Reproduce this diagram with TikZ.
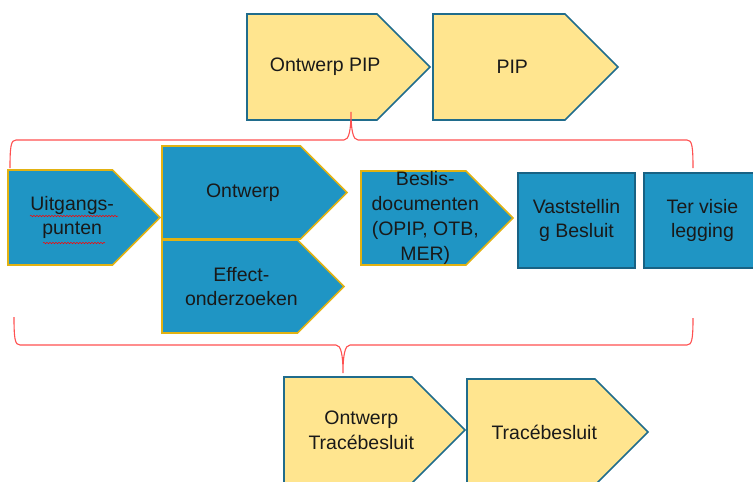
\documentclass[tikz,border=0pt]{standalone}
\usepackage{fontspec}
\setmainfont{Liberation Sans}
\usetikzlibrary{decorations.pathmorphing}

\definecolor{geel}{RGB}{255,229,143}
\definecolor{geelrand}{RGB}{32,108,140}
\definecolor{blauw}{RGB}{31,149,196}
\definecolor{goud}{RGB}{226,178,18}
\definecolor{blauwrand}{RGB}{24,98,132}
\definecolor{rood}{RGB}{255,80,80}

\newcommand{\pijl}[7]{%
  \pgfmathsetmacro\pijlh{(#6-#4)/2}
  \draw[#2] (#3,#4) -- ({#5-\pijlh},#4) -- (#5,{#4+\pijlh}) -- ({#5-\pijlh},#6) -- (#3,#6) -- cycle;
  \node (#1) at ({(#3+#5-\pijlh/2)/2},{#4+\pijlh}) {#7};
}

\begin{document}
\begin{tikzpicture}
  [x=1pt,y=-1pt,
   every node/.style={align=center,text=black!90,font=\fontsize{19.5}{24.8}\selectfont},
   geelpijl/.style={fill=geel,draw=geelrand,line width=1.6pt},
   blauwpijl/.style={fill=blauw,draw=goud,line width=1.6pt},
   blauwblok/.style={fill=blauw,draw=blauwrand,line width=1.4pt},
   accolade/.style={draw=rood,line width=1.1pt},
   kronkel/.style={draw=red,line width=0.5pt,decorate,decoration={snake,amplitude=0.7pt,segment length=3pt}}]
  \useasboundingbox (0,0) rectangle (753,482);
  \clip (0,0) rectangle (753,482);

  \pijl{opip}{geelpijl}{247}{14}{430}{120}{Ontwerp PIP}
  \pijl{pip}{geelpijl}{433}{14}{618}{120}{PIP}

  \pijl{uitgang}{blauwpijl}{8}{170}{160}{265}{Uitgangs-\\punten}
  \pijl{ontwerp}{blauwpijl}{162}{146}{347}{239}{Ontwerp}
  \pijl{effect}{blauwpijl}{162}{240}{344}{333}{Effect-\\onderzoeken}
  \pijl{beslis}{blauwpijl}{361}{171}{513}{265}{Beslis-\\documenten\\(OPIP, OTB,\\MER)}

  \draw[blauwblok] (518,173) rectangle (635,268);
  \node (vast) at (576.5,220.5) {Vaststellin\\g Besluit};
  \draw[blauwblok] (644,173) rectangle (761,268);
  \node (visie) at (702.5,220.5) {Ter visie\\legging};

  \pijl{otb}{geelpijl}{284}{377}{465}{483}{Ontwerp\\Tracébesluit}
  \pijl{tb}{geelpijl}{467}{379}{648}{485}{Tracébesluit}

  \draw[kronkel] (30,216) -- (118,216);
  \draw[kronkel] (43,243) -- (105,243);

  \draw[accolade] (10,168) .. controls (10,146) and (11,140) .. (16,140) -- (344,140)
    .. controls (349,140) and (351,130) .. (351,112) .. controls (351,130) and (353,140) .. (358,140)
    -- (687,140) .. controls (692,140) and (693,146) .. (693,168);
  \draw[accolade] (14,317) .. controls (14,339) and (15,345) .. (20,345) -- (336,345)
    .. controls (341,345) and (343,355) .. (343,373) .. controls (343,355) and (345,345) .. (350,345)
    -- (687,345) .. controls (692,345) and (693,339) .. (693,318);
\end{tikzpicture}
\end{document}
